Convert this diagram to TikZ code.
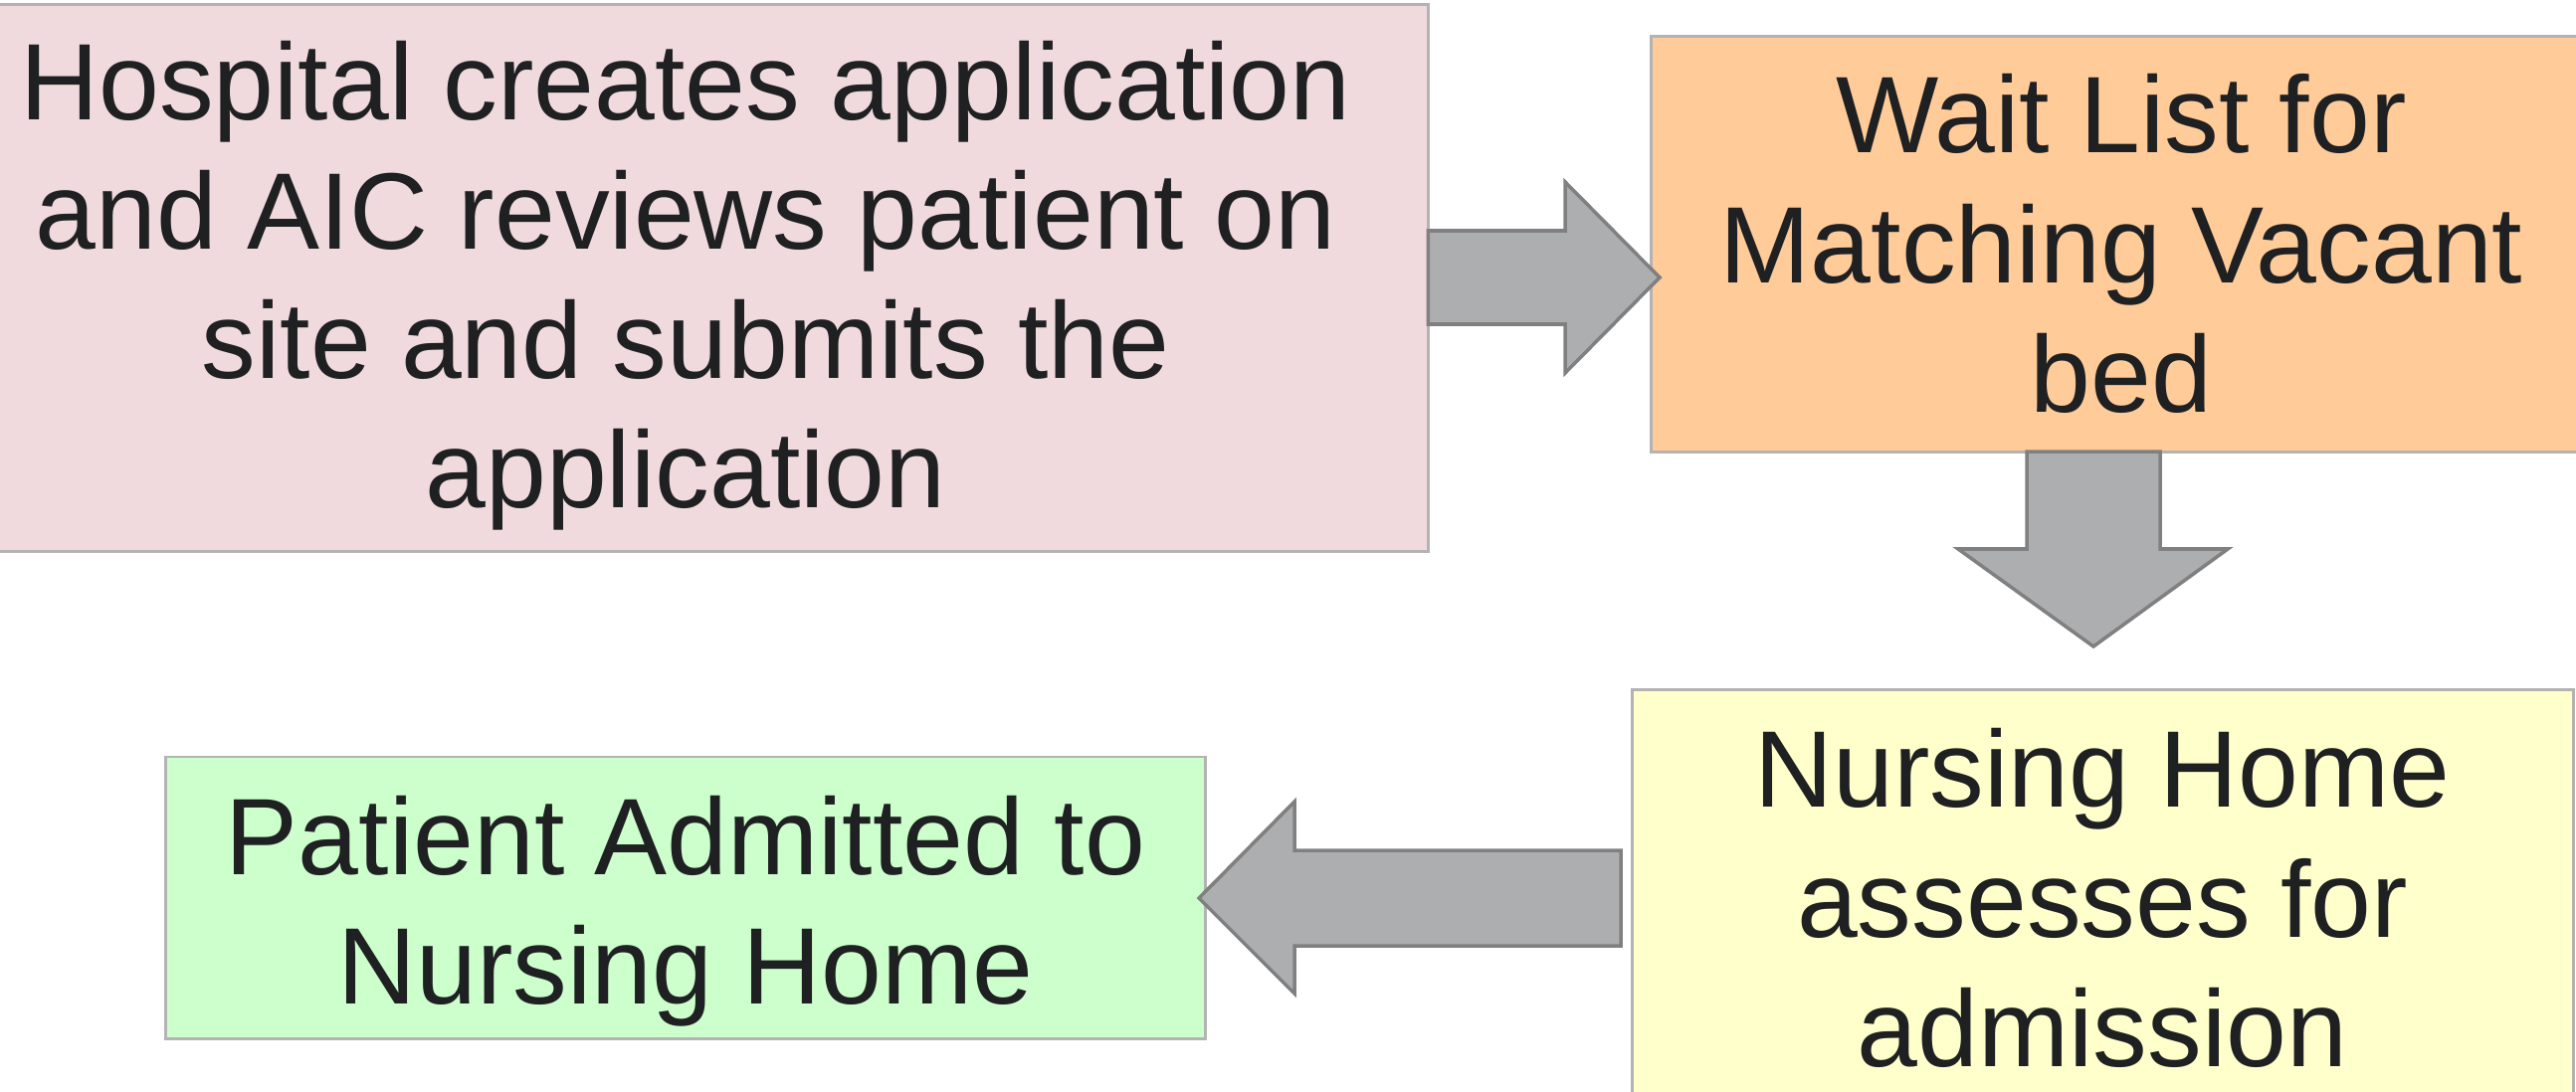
\documentclass[tikz,border=0pt]{standalone}
\usepackage{fontspec}
\setmainfont{Liberation Sans}
\usetikzlibrary{calc}
\definecolor{boxline}{HTML}{B3B3B3}
\definecolor{pinkfill}{HTML}{F0DADD}
\definecolor{orangefill}{HTML}{FFCB99}
\definecolor{yellowfill}{HTML}{FFFFCC}
\definecolor{greenfill}{HTML}{CCFFCC}
\definecolor{arrowfill}{HTML}{ADAEB0}
\definecolor{arrowline}{HTML}{808080}
\definecolor{txt}{HTML}{1F2022}
\tikzset{
  stepbox/.style={draw=boxline, line width=0.8pt, inner sep=0pt, outer sep=0pt},
  label text/.style={text=txt, align=center, inner sep=0pt, font=\fontsize{31.1}{37}\selectfont},
  blockarrow/.style={fill=arrowfill, draw=arrowline, line width=1pt, line join=miter}
}
\begin{document}
\begin{tikzpicture}[x=0.01cm, y=-0.01cm]
\useasboundingbox (0,0) rectangle (2589,1097);
\begin{scope}
\clip (0,0) rectangle (2589,1097);
% boxes
\node[stepbox, fill=pinkfill, minimum width=14.40cm, minimum height=5.49cm] (b1) at (715,279.5) {};
\node[stepbox, fill=orangefill, minimum width=9.40cm, minimum height=4.17cm] (b2) at (2130,245.5) {};
\node[stepbox, fill=yellowfill, minimum width=9.45cm, minimum height=4.16cm] (b3) at (2113.5,902) {};
\node[stepbox, fill=greenfill, minimum width=10.44cm, minimum height=2.83cm] (b4) at (689,902.5) {};
% texts
\node[label text] (t1) at (689,287) {Hospital creates application\\and AIC reviews patient on\\site and submits the\\application};
\node[label text] (t2) at (2132,245) {Wait List for\\Matching Vacant\\bed};
\node[label text] (t3) at (2113,903) {Nursing Home\\assesses for\\admission};
\node[label text] (t4) at (689,916) {Patient Admitted to\\Nursing Home};
% arrow 1: b1 -> b2
\coordinate (a1s) at (b1.east |- 0,279);
\coordinate (a1t) at (1668,279);
\draw[blockarrow] ($(a1s)+(0,-47)$) -- (1573,232) -- (1573,183) -- (a1t) -- (1573,375) -- (1573,326) -- ($(a1s)+(0,47)$) -- cycle;
% arrow 2: b2 -> b3
\coordinate (a2s) at (b2.south -| 2104,0);
\coordinate (a2t) at (2104,650);
\draw[blockarrow] ($(a2s)+(-67,0)$) -- (2037,552) -- (1968,552) -- (a2t) -- (2239,552) -- (2171,552) -- ($(a2s)+(67,0)$) -- cycle;
% arrow 3: b3 -> b4
\coordinate (a3s) at (1629,903);
\coordinate (a3t) at (1205,903);
\draw[blockarrow] ($(a3s)+(0,-48)$) -- (1301,855) -- (1301,806) -- (a3t) -- (1301,999) -- (1301,951) -- ($(a3s)+(0,48)$) -- cycle;
\end{scope}
\end{tikzpicture}
\end{document}
